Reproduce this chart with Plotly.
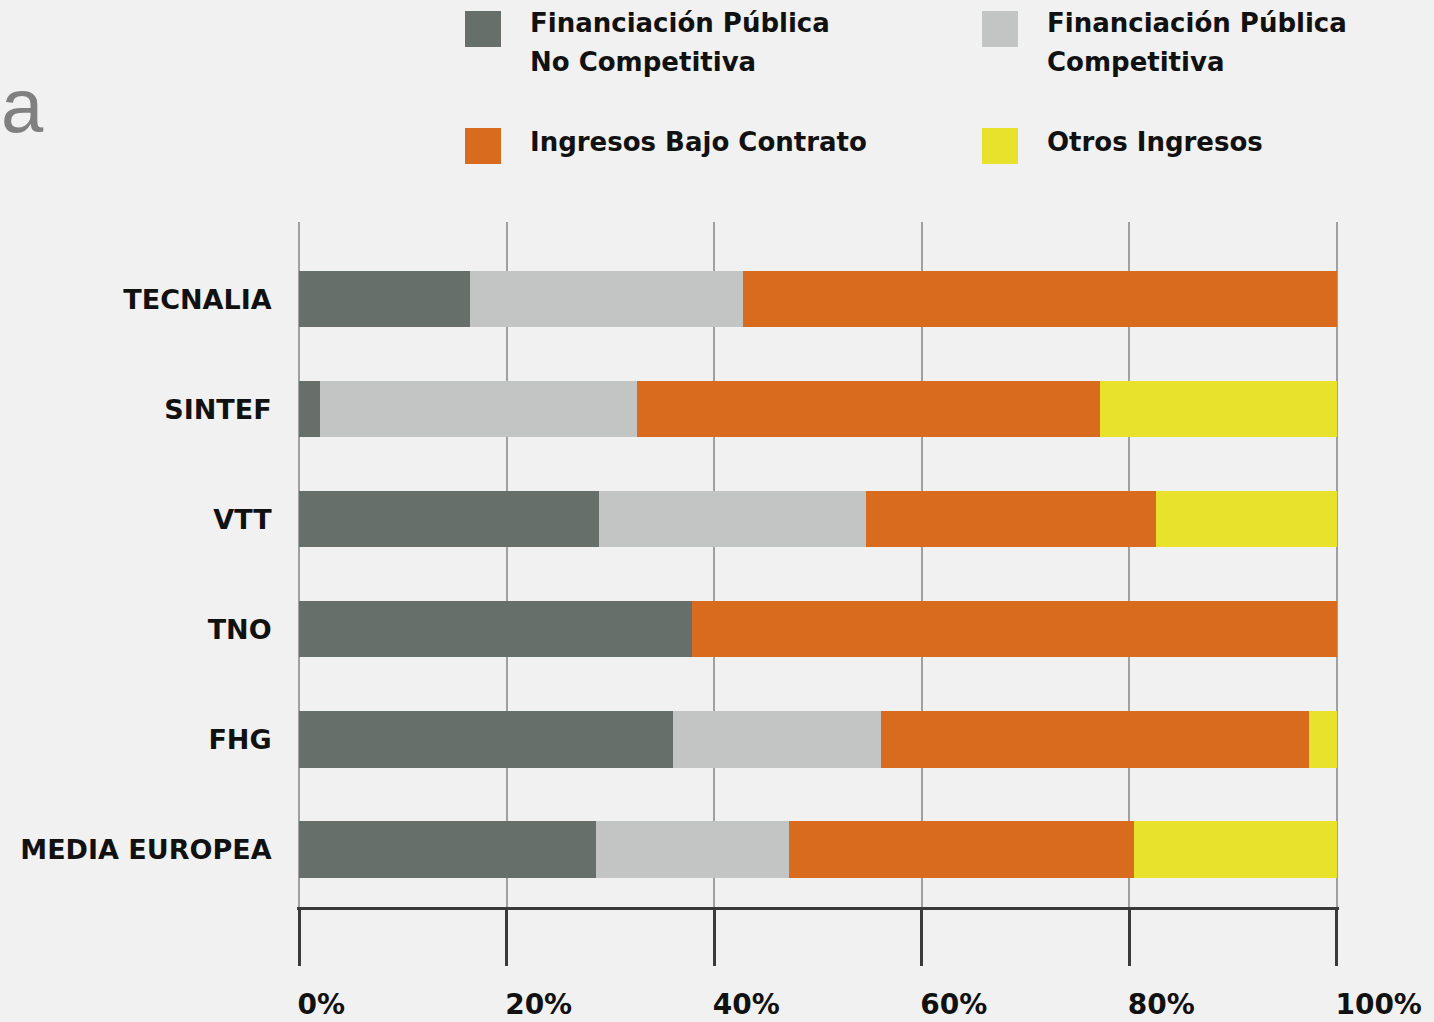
import plotly.graph_objects as go

# ---- data ----
categories = ["TECNALIA", "SINTEF", "VTT", "TNO", "FHG", "MEDIA EUROPEA"]
series_names = ["Financiación Pública No Competitiva",
                "Financiación Pública Competitiva",
                "Ingresos Bajo Contrato",
                "Otros Ingresos"]
fp_no_competitiva = [16.5, 2.0, 28.9, 37.9, 36.0, 28.6]
fp_competitiva = [26.3, 30.6, 25.7, 0.0, 20.1, 18.6]
ingresos_contrato = [57.2, 44.6, 28.0, 62.1, 41.2, 33.2]
otros_ingresos = [0.0, 22.8, 17.4, 0.0, 2.7, 19.6]
tick_values = [0, 20, 40, 60, 80, 100]
tick_labels = ["0%", "20%", "40%", "60%", "80%", "100%"]
legend_lines = [["Financiación Pública", "No Competitiva"],
                ["Financiación Pública", "Competitiva"],
                ["Ingresos Bajo Contrato"],
                ["Otros Ingresos"]]

colors = ["#666f69", "#c3c5c4", "#d96b1e", "#e8e22c"]
BG = "#f1f1f1"
FONT = "DejaVu Sans"

W, H = 1434, 1022
ML, MT, MB = 297, 222, 115
PW = 1042
MR = W - ML - PW
PH = H - MT - MB


def px_x(px):
    return (px - ML) / PW


def px_y(py):
    return (H - MB - py) / PH


fig = go.Figure()
for name, vals, col in zip(series_names,
                           [fp_no_competitiva, fp_competitiva, ingresos_contrato, otros_ingresos],
                           colors):
    fig.add_trace(go.Bar(
        y=categories, x=vals, name=name, orientation="h",
        marker=dict(color=col, line=dict(width=0)),
        width=0.51, showlegend=False, hoverinfo="x+y+name",
    ))

# ---- custom legend (2x2) ----
legend_pos = [(465, 11, 528, [24, 62]),
              (982, 11, 1045, [24, 62]),
              (465, 128, 528, [142.5]),
              (982, 128, 1045, [142.5])]
shapes = []
annotations = []
for (sx, sy, tx, ys), col, lines in zip(legend_pos, colors, legend_lines):
    shapes.append(dict(type="rect", xref="paper", yref="paper",
                       x0=px_x(sx), x1=px_x(sx + 36), y0=px_y(sy + 36), y1=px_y(sy),
                       fillcolor=col, line=dict(width=0)))
    for line_txt, yy in zip(lines, ys):
        annotations.append(dict(text=line_txt, xref="paper", yref="paper",
                                x=px_x(tx), y=px_y(yy - 0.5), xanchor="left", yanchor="middle",
                                showarrow=False,
                                font=dict(family=FONT, size=26, color="#111111", weight="bold")))

annotations.append(dict(text="a", xref="paper", yref="paper",
                        x=px_x(-1), y=px_y(106), xanchor="left", yanchor="middle",
                        showarrow=False,
                        font=dict(family="Liberation Sans", size=76, color="#808080")))

fig.update_layout(
    width=W, height=H,
    margin=dict(l=ML, r=MR, t=MT, b=MB, pad=0, autoexpand=False),
    paper_bgcolor=BG, plot_bgcolor=BG,
    barmode="stack", bargap=0.49,
    shapes=shapes, annotations=annotations,
    font=dict(family=FONT, color="#111111"),
    xaxis=dict(range=[-0.2, 100.2], tickvals=tick_values, ticktext=tick_labels,
               showgrid=True, gridcolor="#a0a0a0", gridwidth=2,
               zeroline=False, showline=True, linecolor="#3a3a3a", linewidth=2.5,
               ticks="outside", ticklen=56, tickwidth=2.5, tickcolor="#3a3a3a",
               ticklabelposition="outside right",
               ticklabelstandoff=71, ticklabelshift=-4, automargin=False,
               tickfont=dict(family=FONT, size=28, color="#111111", weight="bold"),
               fixedrange=True),
    yaxis=dict(type="category", categoryorder="array",
               categoryarray=list(reversed(categories)),
               range=[-0.522, 5.70], showgrid=False, zeroline=False, showline=False,
               ticks="outside", ticklen=0, tickcolor="rgba(0,0,0,0)",
               ticklabelstandoff=19, automargin=False,
               tickfont=dict(family=FONT, size=27, color="#111111", weight="bold"),
               fixedrange=True),
)

fig.write_html("out.html", config={"displayModeBar": False},
               post_script="document.body.style.margin='0';"
                           "document.body.style.background='#f1f1f1';"
                           "document.body.style.overflow='hidden';")
